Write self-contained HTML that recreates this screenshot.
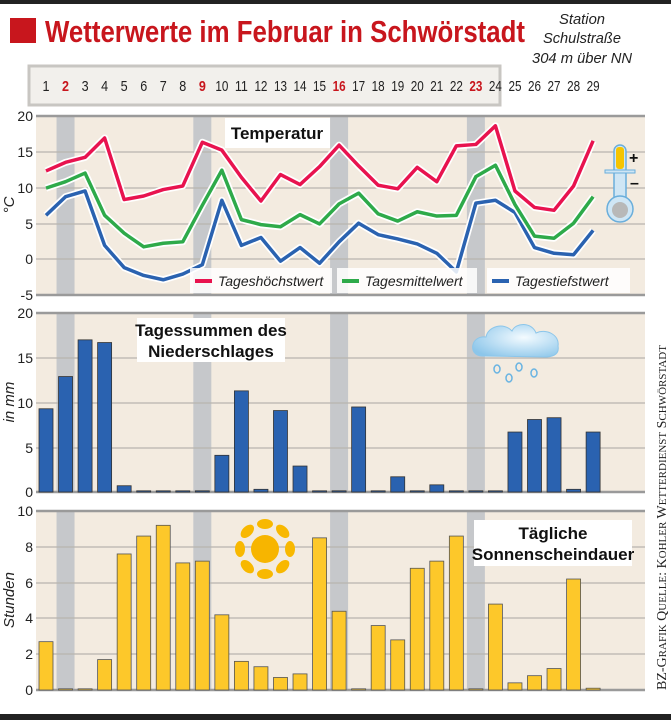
<!DOCTYPE html>
<html><head><meta charset="utf-8"><style>
html,body{margin:0;padding:0;background:#fff;}
svg{display:block;font-family:"Liberation Sans",sans-serif;}
</style></head><body>
<svg id="s" width="671" height="720" viewBox="0 0 671 720" xmlns="http://www.w3.org/2000/svg">
<defs><radialGradient id="cg" cx="0.6" cy="0.4" r="0.7"><stop offset="0" stop-color="#f4fbff"/><stop offset="1" stop-color="#8cc6ea"/></radialGradient></defs>
<rect x="0" y="0" width="671" height="4" fill="#222"/>
<rect x="0" y="714" width="671" height="6" fill="#222"/>
<rect x="10" y="18" width="26" height="25" fill="#c8161d"/>
<text x="45" y="42" font-size="31" font-weight="bold" fill="#c8161d" textLength="480" lengthAdjust="spacingAndGlyphs">Wetterwerte im Februar in Schwörstadt</text>
<g font-size="15" font-style="italic" fill="#222" text-anchor="middle">
<text x="582" y="24" textLength="46" lengthAdjust="spacingAndGlyphs">Station</text>
<text x="582" y="43" textLength="78" lengthAdjust="spacingAndGlyphs">Schulstraße</text>
<text x="582" y="63" textLength="100" lengthAdjust="spacingAndGlyphs">304 m über NN</text>
</g>
<rect x="29" y="66" width="471" height="39" fill="#f2f0ec" stroke="#c8c6c2" stroke-width="3"/>
<g id="days" font-size="15" text-anchor="middle" fill="#222"></g>
<g id="plots"></g>
<g font-size="14" fill="#222" text-anchor="end">
<text x="33" y="121">20</text><text x="33" y="157">15</text><text x="33" y="193">10</text><text x="33" y="229">5</text><text x="33" y="264">0</text><text x="33" y="300">-5</text>
<text x="33" y="318">20</text><text x="33" y="363">15</text><text x="33" y="408">10</text><text x="33" y="453">5</text><text x="33" y="497">0</text>
<text x="33" y="516">10</text><text x="33" y="552">8</text><text x="33" y="588">6</text><text x="33" y="623">4</text><text x="33" y="659">2</text><text x="33" y="695">0</text>
</g>
<g font-size="15" font-style="italic" fill="#222" text-anchor="middle">
<text transform="translate(14,205) rotate(-90)">°C</text>
<text transform="translate(14,402) rotate(-90)">in mm</text>
<text transform="translate(14,600) rotate(-90)">Stunden</text>
</g>
<rect x="225" y="118" width="105" height="30" fill="#fff"/>
<text x="277" y="139" font-size="17" font-weight="bold" text-anchor="middle" fill="#111">Temperatur</text>
<g font-size="14" font-style="italic" fill="#222">
<rect x="190" y="268" width="142" height="25" fill="#fff" opacity="0.85"/>
<line x1="195" y1="281" x2="212" y2="281" stroke="#e8134f" stroke-width="4"/>
<text x="218" y="286">Tageshöchstwert</text>
<rect x="337" y="268" width="140" height="25" fill="#fff" opacity="0.85"/>
<line x1="342" y1="281" x2="359" y2="281" stroke="#2eaa4a" stroke-width="4"/>
<text x="365" y="286">Tagesmittelwert</text>
<rect x="487" y="268" width="143" height="25" fill="#fff" opacity="0.85"/>
<line x1="492" y1="281" x2="509" y2="281" stroke="#2a62b0" stroke-width="4"/>
<text x="515" y="286">Tagestiefstwert</text>
</g>
<rect x="137" y="318" width="148" height="44" fill="#fff"/>
<g font-size="17" font-weight="bold" text-anchor="middle" fill="#111">
<text x="211" y="336">Tagessummen des</text><text x="211" y="357">Niederschlages</text>
</g>
<rect x="474" y="520" width="158" height="46" fill="#fff"/>
<g font-size="17" font-weight="bold" text-anchor="middle" fill="#111">
<text x="553" y="539">Tägliche</text><text x="553" y="560">Sonnenscheindauer</text>
</g>
<g>
<rect x="614" y="145" width="12" height="60" rx="6" fill="#cfe6f5" stroke="#6aaedb" stroke-width="1.5"/>
<rect x="605" y="170" width="30" height="3" fill="#cfe6f5" stroke="#6aaedb" stroke-width="1"/>
<rect x="616" y="147" width="8" height="22" rx="3" fill="#f5c400"/>
<circle cx="620" cy="209" r="13" fill="#cfe6f5" stroke="#6aaedb" stroke-width="1.5"/>
<circle cx="620" cy="210" r="8" fill="#b8b8b8"/>
<text x="629" y="163" font-size="16" font-weight="bold" fill="#111">+</text>
<text x="630" y="188" font-size="16" font-weight="bold" fill="#111">–</text>
</g>
<g fill="url(#cg)">
<path d="M482,356 C468,356 470,335 486,337 C488,326 504,322 512,331 C516,322 532,322 536,333 C546,328 560,335 558,346 C560,356 550,357 544,357 Z" stroke="#8cc6ea" stroke-width="1"/>
</g>
<g fill="none" stroke="#6ab4e2" stroke-width="1.5">
<ellipse cx="497" cy="369" rx="3" ry="4"/><ellipse cx="519" cy="367" rx="3" ry="4"/>
<ellipse cx="509" cy="378" rx="3" ry="4"/><ellipse cx="534" cy="373" rx="3" ry="4"/>
</g>
<g id="sun"><circle cx="265" cy="549" r="14" fill="#f7b500"/></g>
<text transform="translate(666,690) rotate(-90)" font-family="Liberation Serif,serif" font-size="14" fill="#222">BZ-G<tspan font-size="11">RAFIK</tspan>   Q<tspan font-size="11">UELLE</tspan>: K<tspan font-size="11">OHLER</tspan> W<tspan font-size="11">ETTERDIENST</tspan> S<tspan font-size="11">CHWÖRSTADT</tspan></text>
</svg>
<script>
var NS="http://www.w3.org/2000/svg";
function el(p,t,a){var e=document.createElementNS(NS,t);for(var k in a)e.setAttribute(k,a[k]);p.appendChild(e);return e;}
var X=function(d){return 46+19.54*(d-1);};
var days=document.getElementById('days');
for(var d=1;d<=29;d++){var t=el(days,'text',{x:X(d),y:91,textLength:d<10?7:13,lengthAdjust:'spacingAndGlyphs'});t.textContent=d;if([2,9,16,23].indexOf(d)>=0){t.setAttribute('fill','#c8161d');t.setAttribute('font-weight','bold');}}
var P=document.getElementById('plots');
var panels=[[116,295,[116,152,188,224,259,295]],[313,492,[313,358,403,448,492]],[511,690,[511,547,583,618,654,690]]];
panels.forEach(function(p){
 el(P,'rect',{x:36,y:p[0],width:609,height:p[1]-p[0],fill:'#f3ebe0'});
 [2,9,16,23].forEach(function(d){el(P,'rect',{x:X(d)-9,y:p[0],width:18,height:p[1]-p[0],fill:'#c6c8cb'});});
 p[2].forEach(function(y,i){el(P,'line',{x1:36,x2:645,y1:y,y2:y,stroke:(i==0||y==p[1])?'#9a9a9a':'#b8b4ae','stroke-width':(i==0||y==p[1])?2.5:1.2});});
});
var mx=[12.3,13.5,14.2,16.9,8.3,8.8,9.7,10.2,16.3,15.2,11.4,8.1,11.8,10.4,12.9,15.9,13.0,10.3,9.8,12.8,10.8,15.8,16.0,18.6,9.5,7.2,6.8,10.2,16.5];
var mn=[9.9,10.8,12,6.1,3.6,1.7,2.2,2.4,7.5,12.4,5.5,4.8,4.5,6.2,4.9,7.7,9.2,6.3,5.3,6.6,6.0,6.1,11.5,13.1,7.6,3.2,2.9,5.0,8.7];
var lo=[6.1,8.7,9.5,1.9,-1.2,-2.3,-2.9,-2.1,-0.8,8.2,1.9,3.0,-0.3,1.6,-0.6,2.4,5.0,3.4,2.8,2.1,0.8,-1.8,7.8,8.2,6.5,1.6,0.8,0.6,4.0];
var TY=function(v){return 259-v*7.16;};
[[lo,'#2a62b0'],[mn,'#2eaa4a'],[mx,'#e8134f']].forEach(function(s){
 var pts=s[0].map(function(v,i){return X(i+1)+','+TY(v);}).join(' ');
 el(P,'polyline',{points:pts,fill:'none',stroke:'#fff','stroke-width':7,'stroke-linejoin':'round'});
 el(P,'polyline',{points:pts,fill:'none',stroke:s[1],'stroke-width':3.5,'stroke-linejoin':'round'});
});
var pr=[9.3,12.9,17,16.7,0.7,0,0,0,0,4.1,11.3,0.3,9.1,2.9,0,0,9.5,0,1.7,0,0.8,0,0,0,6.7,8.1,8.3,0.3,6.7];
var su=[2.7,0,0,1.7,7.6,8.6,9.2,7.1,7.2,4.2,1.6,1.3,0.7,0.9,8.5,4.4,0,3.6,2.8,6.8,7.2,8.6,0,4.8,0.4,0.8,1.2,6.2,0.1];
pr.forEach(function(v,i){var h=Math.max(v*8.95,1.2);el(P,'rect',{x:X(i+1)-7,y:492-h,width:14,height:h,fill:'#2a62b0',stroke:'#333','stroke-width':0.8});});
su.forEach(function(v,i){var h=Math.max(v*17.9,1.2);el(P,'rect',{x:X(i+1)-7,y:690-h,width:14,height:h,fill:'#fdc82a',stroke:'#555','stroke-width':0.8});});
var sun=document.getElementById('sun');
for(var k=0;k<8;k++){var a=k*Math.PI/4;var cx=265+Math.cos(a)*25,cy=549+Math.sin(a)*25;
 el(sun,'ellipse',{cx:cx,cy:cy,rx:8,ry:5,fill:'#f8b800',transform:'rotate('+(k*45+90)+' '+cx+' '+cy+')'});}
</script>
</body></html>
